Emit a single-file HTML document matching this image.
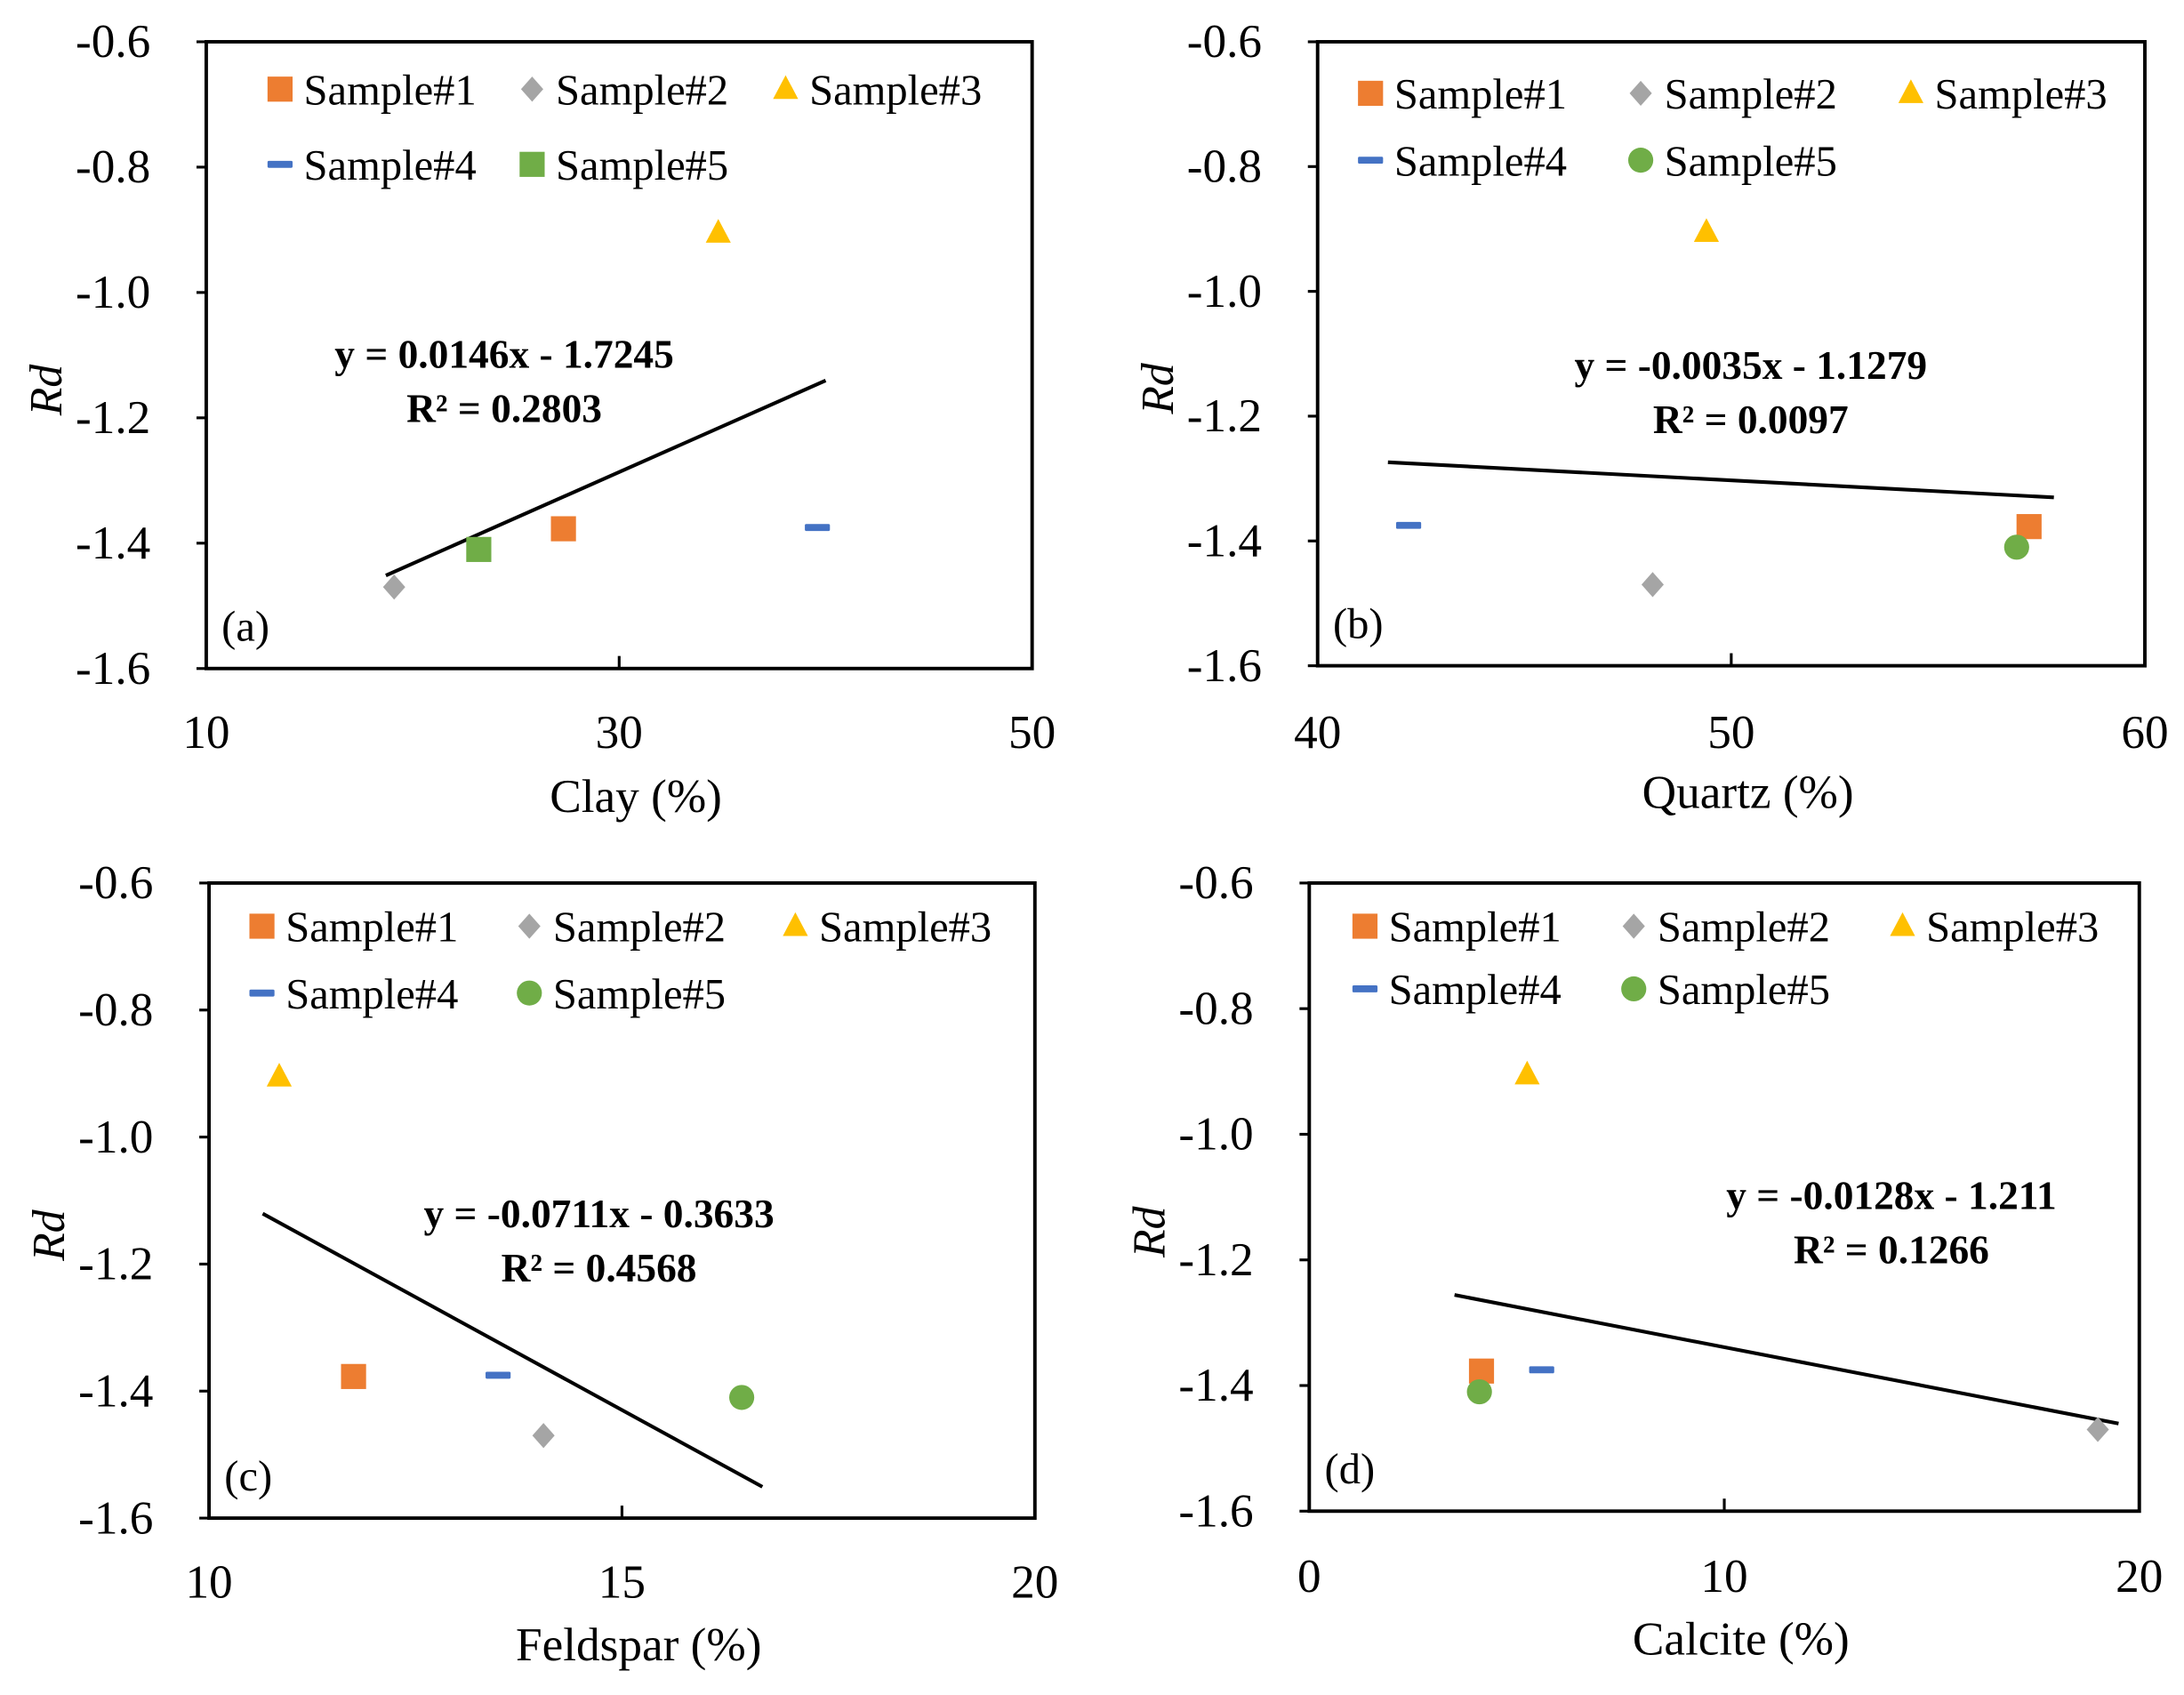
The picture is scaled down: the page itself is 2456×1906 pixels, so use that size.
<!DOCTYPE html>
<html><head><meta charset="utf-8">
<style>
html,body{margin:0;padding:0;background:#fff;}
svg{display:block;}
text{font-family:"Liberation Serif",serif;fill:#000;}
</style></head>
<body>
<svg id="chart" width="2456" height="1906" viewBox="0 0 1568 1217" xmlns="http://www.w3.org/2000/svg"></svg>
<script>
const sampleNames = ["Sample#1","Sample#2","Sample#3","Sample#4","Sample#5"];
const rdValues = [-1.377, -1.47, -0.905, -1.375, -1.41];
const clayX = [27.3, 19.1, 34.8, 39.6, 23.2];
const quartzX = [57.2, 48.1, 49.4, 42.2, 56.9];
const feldsparX = [11.75, 14.05, 10.85, 13.5, 16.45];
const calciteX = [4.15, 19.0, 5.25, 5.6, 4.1];
const slopes = [0.0146, -0.0035, -0.0711, -0.0128];
const intercepts = [-1.7245, -1.1279, -0.3633, -1.211];
const eqLabels = ["y = 0.0146x - 1.7245","y = -0.0035x - 1.1279","y = -0.0711x - 0.3633","y = -0.0128x - 1.211"];
const r2Labels = ["R² = 0.2803","R² = 0.0097","R² = 0.4568","R² = 0.1266"];
const trendRanges = [[18.7,40],[41.7,57.8],[10.65,16.7],[3.5,19.5]];
const xTickLabels = [[10,30,50],[40,50,60],[10,15,20],[0,10,20]];
const yTickLabels = [-0.6,-0.8,-1.0,-1.2,-1.4,-1.6];
const xTitles = ["Clay (%)","Quartz (%)","Feldspar (%)","Calcite (%)"];
const panelTags = ["(a)","(b)","(c)","(d)"];
const colors = ["#ED7D31","#A5A5A5","#FFC000","#4472C4","#70AD47"];

const panels = [
  {x0:148,x1:741,y0:30,y1:480,xd:clayX,xmin:10,xmax:50,s5:"square",eq:[362,254],leg:[201,382,564],ly:[64,118],xl:537,xt:583},
  {x0:946,x1:1540,y0:30,y1:478,xd:quartzX,xmin:40,xmax:60,s5:"circle",eq:[1257,262],leg:[984,1178,1372],ly:[67,115],xl:537,xt:580},
  {x0:150,x1:743,y0:634,y1:1090,xd:feldsparX,xmin:10,xmax:20,s5:"circle",eq:[430,871],leg:[188,380,571],ly:[665,713],xl:1147,xt:1192},
  {x0:940,x1:1536,y0:634,y1:1085,xd:calciteX,xmin:0,xmax:20,s5:"circle",eq:[1358,858],leg:[980,1173,1366],ly:[665,710],xl:1143,xt:1188}
];
const NS="http://www.w3.org/2000/svg";
const svg=document.getElementById('chart');
function mk(tag,attrs,parent){const e=document.createElementNS(NS,tag);for(const k in attrs)e.setAttribute(k,attrs[k]);(parent||svg).appendChild(e);return e;}

function marker(g,kind,cx,cy,color){
  let e;
  if(kind==="square") e=mk('rect',{x:cx-9,y:cy-9,width:18,height:18,fill:color},g);
  else if(kind==="diamond") e=mk('polygon',{points:`${cx},${cy-9} ${cx+8},${cy} ${cx},${cy+9} ${cx-8},${cy}`,fill:color},g);
  else if(kind==="triangle") e=mk('polygon',{points:`${cx},${cy-10} ${cx+9},${cy+7} ${cx-9},${cy+7}`,fill:color},g);
  else if(kind==="dash") e=mk('rect',{x:cx-9,y:cy-2.5,width:18,height:5,rx:1,fill:color},g);
  else e=mk('circle',{cx:cx,cy:cy,r:9,fill:color},g);
  return e;
}

panels.forEach((p,i)=>{
  const g=mk('g',{});
  
  
  const xs=v=>p.x0+(v-p.xmin)/(p.xmax-p.xmin)*(p.x1-p.x0);
  const ys=v=>p.y0+(v-(-0.6))/(-1.6-(-0.6))*(p.y1-p.y0);
  const box=mk('rect',{x:p.x0,y:p.y0,width:p.x1-p.x0,height:p.y1-p.y0,fill:'none',stroke:'#000','stroke-width':2.5},g);
  
  
  yTickLabels.forEach(v=>{
    const y=ys(v);
    mk('line',{x1:p.x0-7,x2:p.x0,y1:y,y2:y,stroke:'#000','stroke-width':2},g);
    const t=mk('text',{x:p.x0-40,y:y+11,'text-anchor':'end','font-size':34},g);
    t.textContent=v.toFixed(1);
    
    
  });
  xTickLabels[i].forEach(v=>{
    const x=xs(v);
    mk('line',{x1:x,x2:x,y1:p.y1,y2:p.y1-9,stroke:'#000','stroke-width':2},g);
    const t=mk('text',{x:x,y:p.xl,'text-anchor':'middle','font-size':34},g);
    t.textContent=v;
    
    
  });
  const xt=mk('text',{x:(p.x0+p.x1)/2+12,y:p.xt,'text-anchor':'middle','font-size':34},g);
  xt.textContent=xTitles[i];
  
  
  const cy=(p.y0+p.y1)/2;
  const yt=mk('text',{x:0,y:0,'text-anchor':'middle','font-size':33,'font-style':'italic',transform:`translate(${p.x0-104},${cy+25}) rotate(-90)`},g);
  yt.textContent="Rd";
  
  
  const tag=mk('text',{x:p.x0+11,y:p.y1-20,'font-size':31},g);
  tag.textContent=panelTags[i];
  
  
  const [a,b]=trendRanges[i];
  const tl=mk('line',{x1:xs(a),y1:ys(slopes[i]*a+intercepts[i]),x2:xs(b),y2:ys(slopes[i]*b+intercepts[i]),stroke:'#000','stroke-width':2.6},g);
  
  
  const e1=mk('text',{x:p.eq[0],y:p.eq[1]+10,'text-anchor':'middle','font-size':29,'font-weight':'bold'},g);
  e1.textContent=eqLabels[i];
  
  
  const e2=mk('text',{x:p.eq[0],y:p.eq[1]+49,'text-anchor':'middle','font-size':29,'font-weight':'bold'},g);
  e2.textContent=r2Labels[i];
  
  
  const kinds=["square","diamond","triangle","dash",p.s5];
  sampleNames.forEach((n,k)=>{
    const m=marker(g,kinds[k],xs(p.xd[k]),ys(rdValues[k]),colors[k]);
    
    
    const lx=p.leg[k%3], ly=p.ly[Math.floor(k/3)];
    const lg=mk('g',{},g);
    
    
    marker(lg,kinds[k],lx,ly,colors[k]);
    const lt=mk('text',{x:lx+17,y:ly+11,'font-size':31},lg);
    lt.textContent=n;
  });
});
</script>
</body></html>
